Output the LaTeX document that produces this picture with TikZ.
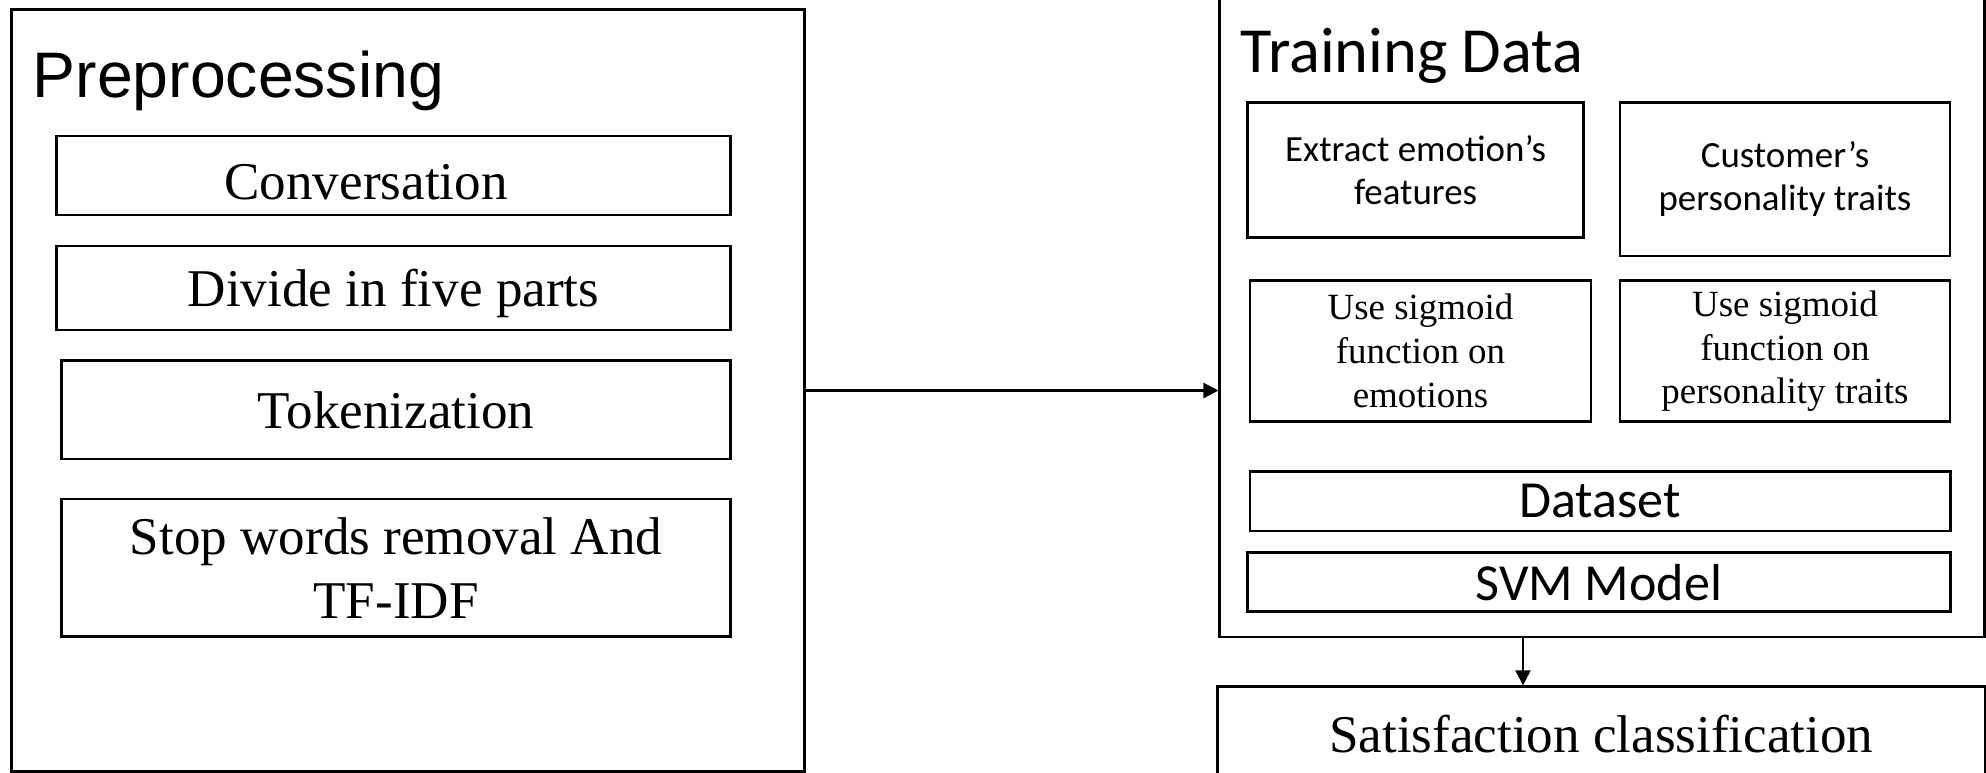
\documentclass[tikz,border=0pt]{standalone}
\usepackage{fontspec}
\setmainfont{Liberation Serif}
\newfontfamily\flowSansFont{Liberation Sans}
\newfontfamily\flowCalibriFont{Carlito}
\usetikzlibrary{arrows.meta}
\providecommand{\flowBoxLineWidth}{0.75pt}
\providecommand{\flowArrowLineWidth}{0.6pt}
\tikzset{
  frame/.style={draw=black, line width=\flowBoxLineWidth, rectangle, inner sep=0pt},
  stepbox/.style={frame, align=center, font=\fontsize{15.1}{18.2}\selectfont},
  smallbox/.style={frame, align=center, font=\fontsize{10.5}{12.5}\selectfont},
  calbox/.style={frame, align=center, font=\flowCalibriFont\fontsize{10.5}{12.3}\selectfont},
  widebox/.style={frame, align=center, font=\flowCalibriFont\fontsize{14.8}{17.8}\selectfont},
  flow/.style={draw=black, line width=\flowArrowLineWidth, -{Triangle[length=0.15cm, width=0.15cm]}}
}
\begin{document}
\begin{tikzpicture}
\def\pxsz{0.01cm}
\begin{scope}[x=\pxsz, y=-\pxsz]
  % Page size
  \useasboundingbox (0,0) rectangle (1986,772);
  % Preprocessing block
  \node[frame, minimum width=7.925cm, minimum height=7.61cm] (prep) at (407.75,390.5) {};
  \node[anchor=base west, inner sep=0pt, font=\flowSansFont\fontsize{18.3}{21}\selectfont] (preptitle) at (32,97) {Preprocessing};
  \node[stepbox, minimum width=6.741cm, minimum height=0.79cm] (conv) at (393.55,175.5) {\raisebox{-0.06cm}[\height][0pt]{Conversation}\kern0.55cm};
  \node[stepbox, minimum width=6.741cm, minimum height=0.84cm, text depth=0pt] (divide) at (393.55,288) {Divide in five parts};
  \node[stepbox, minimum width=6.689cm, minimum height=0.983cm] (token) at (396.15,409.85) {Tokenization};
  \node[stepbox, minimum width=6.689cm, minimum height=1.377cm] (stopw) at (396.15,567.85) {Stop words removal And\\TF-IDF};
  % Training data block
  \node[frame, minimum width=7.645cm, minimum height=6.767cm] (train) at (1602.25,298.35) {};
  \node[anchor=base west, inner sep=0pt, font=\flowCalibriFont\fontsize{18.3}{21}\selectfont] (traintitle) at (1240,72) {Training Data};
  \node[calbox, minimum width=3.359cm, minimum height=1.354cm] (emofeat) at (1415.55,170) {Extract emotion’s\\features};
  \node[calbox, minimum width=3.3cm, minimum height=1.537cm] (perstrait) at (1785,179.15) {Customer’s\\personality traits};
  \node[smallbox, minimum width=3.41cm, minimum height=1.41cm] (sigemo) at (1420.5,351.2) {Use sigmoid\\function on\\emotions};
  \node[smallbox, minimum width=3.3cm, minimum height=1.41cm] (sigpers) at (1785,351.2) {Use sigmoid\\function on\\personality traits};
  \node[widebox, minimum width=7cm, minimum height=0.593cm] (dataset) at (1600,501.35) {Dataset};
  \node[widebox, minimum width=7.024cm, minimum height=0.59cm] (svm) at (1598.8,582.2) {SVM Model};
  % Result
  \node[stepbox, minimum width=7.675cm, minimum height=1.313cm, text height=0.35em, text depth=0.35em] (satis) at (1601.25,752.35) {Satisfaction classification};
  % Connectors
  \coordinate (trainout) at (1523,636.7);
  \draw[flow] (prep.east) -- (prep.east -| train.west);
  \draw[flow] (trainout) -- (trainout |- satis.north);
\end{scope}
\end{tikzpicture}
\end{document}
